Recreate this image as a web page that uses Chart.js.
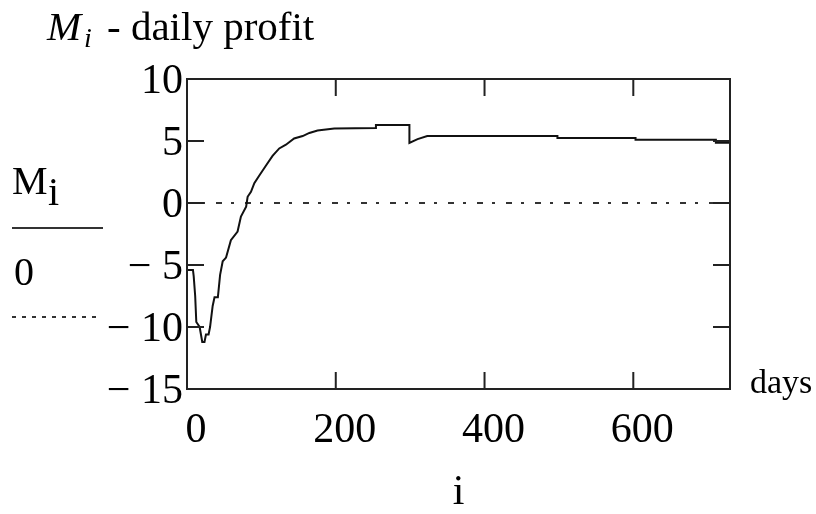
<!DOCTYPE html>
<html><head><meta charset="utf-8">
<script src="https://cdn.jsdelivr.net/npm/chart.js@4/dist/chart.umd.min.js"></script>
<style>html,body{margin:0;padding:0;background:#fff;}canvas{display:block;}</style>
</head><body>
<canvas id="c" width="816" height="514"></canvas>
<script>
// ---- data ----
const days   = [0, 8, 9, 11, 12.5, 17, 20.5, 23.5, 25.5, 29, 31, 34.5, 37, 41.5, 44.5, 48, 52.5, 59, 68, 72.5, 79.5, 81.5, 86, 90.5, 97, 106, 115, 124, 133, 144, 155.5, 164.5, 175.5, 198, 254, 254, 299, 299, 310, 323, 498, 498, 603, 603, 711, 711, 730];
const profit = [-5.4, -5.4, -5.9, -7.5, -9.6, -10.0, -11.2, -11.2, -10.6, -10.6, -10.0, -8.3, -7.6, -7.6, -5.8, -4.7, -4.4, -3.0, -2.3, -1.1, -0.3, 0.5, 0.9, 1.6, 2.2, 3.0, 3.8, 4.4, 4.7, 5.2, 5.4, 5.65, 5.85, 6.0, 6.05, 6.3, 6.3, 4.85, 5.15, 5.4, 5.4, 5.25, 5.25, 5.1, 5.1, 4.85, 4.85];
const zeroDays  = [0, 730];
const zeroLevel = [0, 0];
const xTicks = [0, 200, 400, 600];
const yTicks = [-15, -10, -5, 0, 5, 10];
const xRange = [0, 730];
const yRange = [-15, 10];

const SERIF = "'Liberation Serif', 'Times New Roman', serif";
const fmtY = v => v < 0 ? '\u2212 ' + Math.abs(v) : String(v);

const deco = {
  id: 'deco',
  afterDraw(chart) {
    const {ctx, chartArea: a, scales: {x, y}} = chart;
    ctx.save();
    ctx.strokeStyle = '#222';
    ctx.lineWidth = 2;
    ctx.strokeRect(a.left, a.top, a.right - a.left, a.bottom - a.top);
    const T = 17;
    ctx.beginPath();
    x.ticks.forEach(t => {
      const px = x.getPixelForValue(t.value);
      if (px <= a.left + 1 || px >= a.right - 1) return;
      ctx.moveTo(px, a.bottom); ctx.lineTo(px, a.bottom - T);
      ctx.moveTo(px, a.top); ctx.lineTo(px, a.top + T);
    });
    y.ticks.forEach(t => {
      const py = y.getPixelForValue(t.value);
      if (py <= a.top + 1 || py >= a.bottom - 1) return;
      ctx.moveTo(a.left, py); ctx.lineTo(a.left + T, py);
      ctx.moveTo(a.right, py); ctx.lineTo(a.right - T, py);
    });
    ctx.stroke();

    ctx.fillStyle = '#000';
    ctx.textBaseline = 'alphabetic';
    ctx.textAlign = 'left';
    // title
    ctx.font = 'italic 41px ' + SERIF;
    ctx.fillText('M', 47, 40);
    ctx.font = 'italic 28px ' + SERIF;
    ctx.fillText('i', 84, 47);
    ctx.font = '41px ' + SERIF;
    ctx.fillText('- daily profit', 107, 40);
    // units label
    ctx.font = '34px ' + SERIF;
    ctx.fillText('days', 750, 393);
    // legend
    ctx.font = '40px ' + SERIF;
    ctx.fillText('M', 12, 194);
    ctx.fillText('i', 48, 205);
    ctx.fillText('0', 14, 285);
    ctx.strokeStyle = '#333';
    ctx.lineWidth = 2;
    ctx.beginPath(); ctx.moveTo(12, 228); ctx.lineTo(103, 228); ctx.stroke();
    ctx.setLineDash([4, 6]);
    ctx.beginPath(); ctx.moveTo(12, 317); ctx.lineTo(98, 317); ctx.stroke();
    ctx.restore();
  }
};

new Chart(document.getElementById('c'), {
  type: 'line',
  data: {
    datasets: [
      {
        label: 'M_i',
        data: days.map((d, k) => ({x: d, y: profit[k]})),
        borderColor: '#111', borderWidth: 2, pointRadius: 0, tension: 0, fill: false
      },
      {
        label: '0',
        data: zeroDays.map((d, k) => ({x: d, y: zeroLevel[k]})),
        borderColor: '#333', borderWidth: 2, borderDash: [6, 9, 3, 11], pointRadius: 0, fill: false
      }
    ]
  },
  options: {
    responsive: false, animation: false, devicePixelRatio: 1,
    layout: {padding: {top: 79, right: 86, left: 0, bottom: 0}},
    plugins: {legend: {display: false}, tooltip: {enabled: false}},
    scales: {
      x: {
        type: 'linear', min: xRange[0], max: xRange[1],
        grid: {display: false, drawTicks: false}, border: {display: false},
        afterBuildTicks: s => { s.ticks = xTicks.map(v => ({value: v})); },
        afterFit: s => { s.height = 125; },
        ticks: {font: {family: SERIF, size: 42}, color: '#000', padding: 17, labelOffset: 9, maxRotation: 0},
        title: {display: true, text: 'i', font: {family: SERIF, size: 42, lineHeight: 1}, color: '#000', padding: 0}
      },
      y: {
        min: yRange[0], max: yRange[1],
        grid: {display: false, drawTicks: false}, border: {display: false},
        afterBuildTicks: s => { s.ticks = yTicks.map(v => ({value: v})); },
        afterFit: s => { s.width = 187; },
        ticks: {font: {family: SERIF, size: 42}, color: '#000', padding: 4, labelOffset: 3, callback: v => fmtY(v)}
      }
    }
  },
  plugins: [deco]
});
</script>
</body></html>
